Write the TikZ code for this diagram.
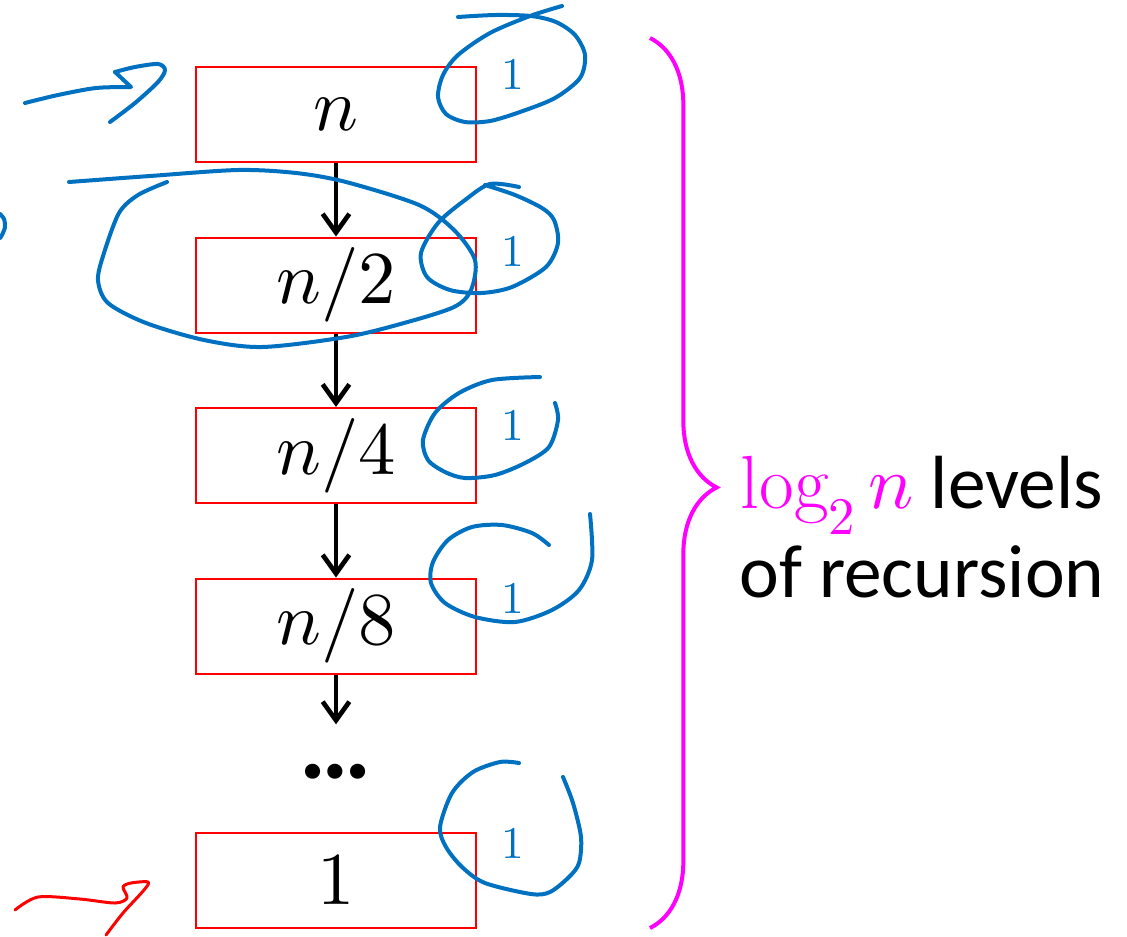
\documentclass[tikz,border=0pt]{standalone}
\usepackage{fontspec}
\usepackage{unicode-math}
\setmathfont{Latin Modern Math}
\setsansfont{Carlito}
\usetikzlibrary{arrows.meta, positioning, calc, decorations.pathreplacing}
\definecolor{inkblue}{RGB}{0,112,192}
\definecolor{pink}{RGB}{255,0,255}

\begin{document}
\begin{tikzpicture}[x=0.75pt, y=-0.75pt, >={Straight Barb[length=14pt,width=20pt]}, node distance=127.875pt, line width=3.5pt]
        \tikzset{
            call/.style={rectangle, draw=red, line width=1.5pt, minimum width=210pt, minimum height=71.25pt, inner sep=0pt, font=\fontsize{56}{60}\selectfont},
            cost/.style={text=inkblue, inner sep=0pt, font=\fontsize{34}{38}\selectfont},
            ink/.style={draw=inkblue, line width=3pt, line cap=round, line join=round},
            redink/.style={draw=red, line width=2.25pt, line cap=round, line join=round},
        }
        \useasboundingbox (0,0) rectangle (1127,936);

        \node[call] (n0) at (336,114.5) {$n$};
        \node[call, below of=n0] (n2) {$n/2$};
        \node[call, below of=n2] (n4) {$n/4$};
        \node[call, below of=n4] (n8) {$n/8$};
        \node[below of=n8, node distance=109.1pt, inner sep=0pt, font=\sffamily\bfseries\fontsize{76}{80}\selectfont] (dots) {\char"2026};
        \node[call, below of=dots, node distance=81.4pt] (n1) {$1$};

        %cost labels
        \node[cost] (c0) at ($(n0.east)+(36,-40)$) {$1$};
        \node[cost] (c2) at ($(n2.east)+(36,-34)$) {$1$};
        \node[cost] (c4) at ($(n4.east)+(36,-30)$) {$1$};
        \node[cost] (c8) at ($(n8.east)+(36,-28)$) {$1$};
        \node[cost] (c1) at ($(n1.east)+(36,-37)$) {$1$};

        % Draw Vertical Arrows
        \draw[->] (n0.south) -- (n2.north);
        \draw[->] (n2.south) -- (n4.north);
        \draw[->] (n4.south) -- (n8.north);
        \draw[->, shorten >=28pt] (n8.south) -- (dots.north);

        %brace and text
        \coordinate (bt) at (650,38);
        \coordinate (bb) at (650,928);
        \draw[pink, line width=3pt, decorate, decoration={brace, amplitude=50pt, aspect=0.505}] (bt) -- (bb);
        \coordinate (tip) at (717,487);
        \node[anchor=west, align=center, inner sep=0pt, font=\sffamily\fontsize{56.5}{67}\selectfont] (lvl) at ($(tip)+(20,40)$) {{\color{pink}$\log_2 n$} levels\\of recursion};

        %pen strokes
        \draw[ink] plot[smooth] coordinates {(25,103) (58,95) (96,88) (131,87)} -- (115,72);
        \draw[ink] plot[smooth] coordinates {(115,72) (135,67) (158,64) (165,70) (158,82) (135,103) (110,122)};
        \draw[ink] plot[smooth] coordinates {(458,17) (495,15) (531,16) (556,22) (575,35) (585,55) (580,78) (555,98) (520,112) (490,121) (465,122) (446,114) (438,97) (443,75) (458,55) (490,33) (530,16) (562,6)};
        \draw[ink] plot[smooth] coordinates {(69,182) (150,176) (238,170) (296,173) (346,182) (419,205) (454,230) (475,260) (471,290) (454,307) (404,323) (346,337) (262,347) (204,340) (146,323) (108,303) (98,280) (104,253) (119,213) (138,195) (167,182)};
        \draw[ink] plot[smooth] coordinates {(519,187) (490,184) (465,200) (438,223) (421,253) (427,277) (450,290) (481,293) (512,287) (546,267) (558,243) (554,220) (542,208) (515,195) (485,185)};
        \draw[ink] plot[smooth] coordinates {(540,377) (492,380) (459,393) (435,413) (423,440) (428,460) (445,472) (465,478) (495,475) (525,463) (549,447) (558,420) (555,403)};
        \draw[ink] plot[smooth] coordinates {(549,545) (532,533) (502,525) (472,527) (448,540) (433,562) (431,583) (445,603) (475,617) (515,622) (552,610) (579,590) (592,560) (590,514)};
        \draw[ink] plot[smooth] coordinates {(519,763) (500,762) (473,772) (452,793) (440,827) (446,847) (462,867) (485,883) (531,894) (550,892) (569,877) (579,863) (581,837) (573,803) (563,777)};
        \draw[ink] plot[smooth] coordinates {(0,214) (4,219) (5,227) (2,235) (0,238)};
        \draw[redink] plot[smooth, tension=0.5] coordinates {(15,910) (38,897) (80,899) (115,903) (127,898) (123,887) (131,883) (148,882) (144,890) (123,913) (106,935)};
    \end{tikzpicture}
\end{document}
